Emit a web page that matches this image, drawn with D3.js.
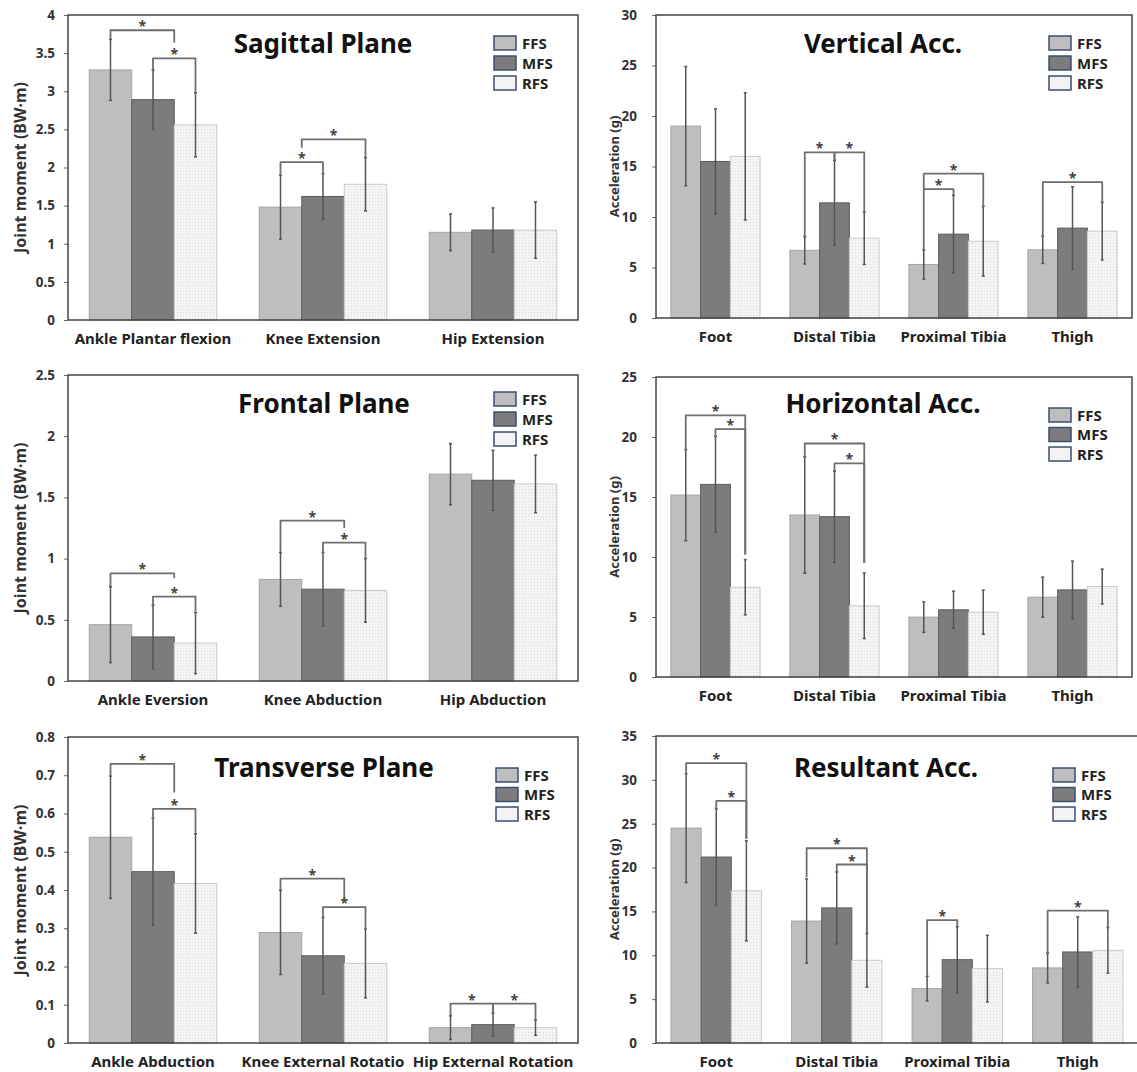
<!DOCTYPE html>
<html>
<head>
<meta charset="utf-8">
<script src="https://cdn.jsdelivr.net/npm/d3@7/dist/d3.min.js"></script>
<style>
  body { margin: 0; background: #fff; }
  text { font-family: "Noto Sans", sans-serif; font-weight: bold; }
</style>
</head>
<body>
<script>
// strike patterns, same for all six panels
const series = ["FFS", "MFS", "RFS"];

// Sagittal plane joint moment (BW·m)
const sagCats = ["Ankle Plantar flexion", "Knee Extension", "Hip Extension"];
const sagMean = [[3.28, 2.89, 2.56], [1.48, 1.62, 1.78], [1.15, 1.18, 1.18]];
const sagSD = [[0.40, 0.39, 0.42], [0.42, 0.30, 0.35], [0.24, 0.29, 0.37]];
const sagTicks = [0, 0.5, 1, 1.5, 2, 2.5, 3, 3.5, 4];
// significance brackets: [category, from bar, to bar, level, left leg end, right leg end]
const sagSig = [[0, 0, 1.5, 3.80, 3.68, 3.64], [0, 1, 2, 3.43, 3.28, 2.98],
                [1, 0, 1, 2.07, 1.91, 1.91], [1, 0.5, 2, 2.37, 2.26, 2.12]];

// Frontal plane joint moment
const froCats = ["Ankle Eversion", "Knee Abduction", "Hip Abduction"];
const froMean = [[0.46, 0.36, 0.31], [0.83, 0.75, 0.74], [1.69, 1.64, 1.61]];
const froSD = [[0.31, 0.26, 0.25], [0.22, 0.30, 0.26], [0.25, 0.245, 0.235]];
const froTicks = [0, 0.5, 1, 1.5, 2, 2.5];
const froSig = [[0, 0, 1.5, 0.88, 0.77, 0.84], [0, 1, 2, 0.69, 0.62, 0.57],
                [1, 0, 1.5, 1.31, 1.05, 1.25], [1, 1, 2, 1.13, 1.04, 1.00]];

// Transverse plane joint moment
const traCats = ["Ankle Abduction", "Knee External Rotatio", "Hip External Rotation"];
const traMean = [[0.538, 0.448, 0.417], [0.289, 0.228, 0.208], [0.040, 0.048, 0.040]];
const traSD = [[0.16, 0.14, 0.13], [0.11, 0.10, 0.09], [0.031, 0.030, 0.020]];
const traTicks = [0, 0.1, 0.2, 0.3, 0.4, 0.5, 0.6, 0.7, 0.8];
const traSig = [[0, 0, 1.5, 0.73, 0.70, 0.655], [0, 1, 2, 0.612, 0.59, 0.55],
                [1, 0, 1.5, 0.43, 0.40, 0.374], [1, 1, 2, 0.355, 0.328, 0.30],
                [2, 0, 1, 0.103, 0.071, 0.079], [2, 1, 2, 0.103, 0.079, 0.059]];

// segment accelerations (g)
const accCats = ["Foot", "Distal Tibia", "Proximal Tibia", "Thigh"];

const verMean = [[19.0, 15.5, 16.0], [6.7, 11.4, 7.9], [5.3, 8.3, 7.6], [6.75, 8.9, 8.6]];
const verSD = [[5.9, 5.2, 6.3], [1.35, 4.2, 2.6], [1.45, 3.85, 3.45], [1.35, 4.1, 2.85]];
const verTicks = [0, 5, 10, 15, 20, 25, 30];
const verSig = [[1, 0, 1, 16.4, 8.1, 15.6], [1, 1, 2, 16.4, 15.6, 10.5],
                [2, 0, 1, 12.76, 6.75, 12.1], [2, 0, 2, 14.3, 12.76, 11.0],
                [3, 0, 2, 13.45, 8.1, 11.4]];

const horMean = [[15.16, 16.05, 7.48], [13.5, 13.36, 5.93], [4.99, 5.6, 5.4], [6.65, 7.26, 7.54]];
const horSD = [[3.8, 4.0, 2.3], [4.85, 3.8, 2.73], [1.27, 1.55, 1.84], [1.67, 2.4, 1.45]];
const horTicks = [0, 5, 10, 15, 20, 25];
const horSig = [[0, 0, 2, 21.8, 18.96, 10.2], [0, 1, 2, 20.65, 20.0, 10.2],
                [1, 0, 2, 19.46, 18.35, 9.5], [1, 1, 2, 17.8, 17.16, 9.5]];

const resMean = [[24.5, 21.2, 17.35], [13.9, 15.4, 9.43], [6.2, 9.5, 8.48], [8.56, 10.38, 10.57]];
const resSD = [[6.2, 5.5, 5.7], [4.8, 4.1, 3.05], [1.4, 3.75, 3.8], [1.7, 4.0, 2.6]];
const resTicks = [0, 5, 10, 15, 20, 25, 30, 35];
const resSig = [[0, 0, 2, 31.9, 30.66, 23.3], [0, 1, 2, 27.6, 26.66, 23.3],
                [1, 0, 2, 22.2, 18.9, 12.5], [1, 1, 2, 20.35, 19.5, 12.5],
                [2, 0, 1, 14.0, 7.6, 13.2], [3, 0, 2, 15.1, 10.27, 13.05]];

const fills = { FFS: "#bebebe", MFS: "#7c7c7c", RFS: "url(#dots)" };
const strokes = { FFS: "#a4a4a4", MFS: "#5c5c5c", RFS: "#cacaca" };
const legendFills = { FFS: "#bebebe", MFS: "#7c7c7c", RFS: "#f3f3f3" };

const svg = d3.select("body").append("svg")
    .attr("width", 1137)
    .attr("height", 1072);

// dotted texture of the RFS bars
const pat = svg.append("defs").append("pattern")
    .attr("id", "dots")
    .attr("patternUnits", "userSpaceOnUse")
    .attr("width", 3).attr("height", 3);
pat.append("rect").attr("width", 3).attr("height", 3).attr("fill", "#f4f4f4");
pat.append("rect").attr("width", 1).attr("height", 1).attr("fill", "#dcdcdc");

const panels = [
    { title: "Sagittal Plane", cats: sagCats, mean: sagMean, sd: sagSD, ticks: sagTicks, sig: sagSig,
      ylab: "Joint moment (BW·m)", left: 68, right: 578, top: 15, bottom: 320,
      titleX: 323, titleY: 53, legX: 494, legY: 36, legGap: 20, ylabX: 20 },
    { title: "Frontal Plane", cats: froCats, mean: froMean, sd: froSD, ticks: froTicks, sig: froSig,
      ylab: "Joint moment (BW·m)", left: 68, right: 578, top: 375, bottom: 681,
      titleX: 324, titleY: 413, legX: 494, legY: 392, legGap: 20, ylabX: 20 },
    { title: "Transverse Plane", cats: traCats, mean: traMean, sd: traSD, ticks: traTicks, sig: traSig,
      ylab: "Joint moment (BW·m)", left: 68, right: 578, top: 737, bottom: 1043,
      titleX: 324, titleY: 777, legX: 496, legY: 768, legGap: 19.5, ylabX: 20 },
    { title: "Vertical Acc.", cats: accCats, mean: verMean, sd: verSD, ticks: verTicks, sig: verSig,
      ylab: "Acceleration (g)", left: 656, right: 1132, top: 15, bottom: 318,
      titleX: 883, titleY: 53, legX: 1049, legY: 36, legGap: 20, ylabX: 614 },
    { title: "Horizontal Acc.", cats: accCats, mean: horMean, sd: horSD, ticks: horTicks, sig: horSig,
      ylab: "Acceleration (g)", left: 656, right: 1132, top: 377, bottom: 677,
      titleX: 883, titleY: 413, legX: 1049, legY: 408, legGap: 19.5, ylabX: 614 },
    { title: "Resultant Acc.", cats: accCats, mean: resMean, sd: resSD, ticks: resTicks, sig: resSig,
      ylab: "Acceleration (g)", left: 656, right: 1138, top: 736, bottom: 1043,
      titleX: 886, titleY: 777, legX: 1053, legY: 768, legGap: 19.5, ylabX: 614 }
];

panels.forEach(drawPanel);

function drawPanel(p) {
    const g = svg.append("g");

    const x = d3.scaleBand()
        .domain(p.cats)
        .range([p.left, p.right])
        .paddingInner(0.25)
        .paddingOuter(0.125);
    const xs = d3.scaleBand().domain(series).range([0, x.bandwidth()]);
    const y = d3.scaleLinear()
        .domain([0, d3.max(p.ticks)])
        .range([p.bottom, p.top]);
    // centre of bar k (k may be fractional) in category c
    const barX = (c, k) => x(p.cats[c]) + (k + 0.5) * xs.bandwidth();

    // y axis
    const yAxis = d3.axisLeft(y).tickValues(p.ticks).tickSize(4).tickPadding(p.left > 600 ? 15 : 9)
        .tickFormat(d => String(d));
    const ya = g.append("g").attr("transform", `translate(${p.left},0)`).call(yAxis);
    ya.select(".domain").remove();
    ya.selectAll("line").attr("stroke", "#666");
    ya.selectAll("text")
        .attr("font-size", 13.5)
        .attr("fill", "#333")
        .style("font-family", '"Noto Sans", sans-serif');

    // bars
    const rows = [];
    p.cats.forEach((c, i) => series.forEach((s, j) => rows.push({ c, s, v: p.mean[i][j], e: p.sd[i][j] })));

    g.selectAll("rect.bar").data(rows).enter().append("rect")
        .attr("class", "bar")
        .attr("x", d => x(d.c) + xs(d.s))
        .attr("y", d => y(d.v))
        .attr("width", xs.bandwidth())
        .attr("height", d => y(0) - y(d.v))
        .attr("fill", d => fills[d.s])
        .attr("stroke", d => strokes[d.s])
        .attr("stroke-width", 1);

    // error bars
    const eb = g.selectAll("g.err").data(rows).enter().append("g")
        .attr("transform", d => `translate(${x(d.c) + xs(d.s) + xs.bandwidth() / 2},0)`);
    eb.append("line")
        .attr("y1", d => y(d.v + d.e)).attr("y2", d => y(Math.max(0, d.v - d.e)))
        .attr("stroke", "#555").attr("stroke-width", 1.5);
    eb.append("line")
        .attr("x1", -1.5).attr("x2", 1.5)
        .attr("y1", d => y(d.v + d.e)).attr("y2", d => y(d.v + d.e))
        .attr("stroke", "#555").attr("stroke-width", 1.5);
    eb.append("line")
        .attr("x1", -1.5).attr("x2", 1.5)
        .attr("y1", d => y(Math.max(0, d.v - d.e))).attr("y2", d => y(Math.max(0, d.v - d.e)))
        .attr("stroke", "#555").attr("stroke-width", 1.5);

    // significance brackets
    g.selectAll("path.sig").data(p.sig).enter().append("path")
        .attr("d", d => `M${barX(d[0], d[1])},${y(d[4])}V${y(d[3])}H${barX(d[0], d[2])}V${y(d[5])}`)
        .attr("fill", "none")
        .attr("stroke", "#6e6e6e")
        .attr("stroke-width", 1.8)
        .attr("stroke-linejoin", "round");
    g.selectAll("text.star").data(p.sig).enter().append("text")
        .attr("x", d => (barX(d[0], d[1]) + barX(d[0], d[2])) / 2)
        .attr("y", d => y(d[3]) + 1)
        .attr("text-anchor", "middle")
        .attr("font-size", 14)
        .attr("fill", "#444")
        .text("*");

    // frame
    g.append("rect")
        .attr("x", p.left).attr("y", p.top)
        .attr("width", p.right - p.left).attr("height", p.bottom - p.top)
        .attr("fill", "none")
        .attr("stroke", "#444")
        .attr("stroke-width", 1.5);

    // category labels
    g.selectAll("text.cat").data(p.cats).enter().append("text")
        .attr("x", d => x(d) + x.bandwidth() / 2)
        .attr("y", p.bottom + 24)
        .attr("text-anchor", "middle")
        .attr("font-size", 15)
        .attr("fill", "#222")
        .text(d => d);

    // y label
    g.append("text")
        .attr("transform", `translate(${p.ylabX},${(p.top + p.bottom) / 2}) rotate(-90)`)
        .attr("text-anchor", "middle")
        .attr("dy", "0.35em")
        .attr("font-size", p.left > 600 ? 13 : 16)
        .attr("fill", "#333")
        .text(p.ylab);

    // title
    g.append("text")
        .attr("x", p.titleX).attr("y", p.titleY)
        .attr("text-anchor", "middle")
        .attr("font-size", 26)
        .attr("fill", "#111")
        .text(p.title);

    // legend
    const leg = g.selectAll("g.leg").data(series).enter().append("g")
        .attr("transform", (d, i) => `translate(${p.legX},${p.legY + i * p.legGap})`);
    leg.append("rect")
        .attr("width", 22).attr("height", 14)
        .attr("fill", d => legendFills[d])
        .attr("stroke", "#3d4d70")
        .attr("stroke-width", 1.5);
    leg.append("text")
        .attr("x", 28).attr("y", 12.5)
        .attr("font-size", 15)
        .attr("fill", "#222")
        .text(d => d);
}
</script>
</body>
</html>
